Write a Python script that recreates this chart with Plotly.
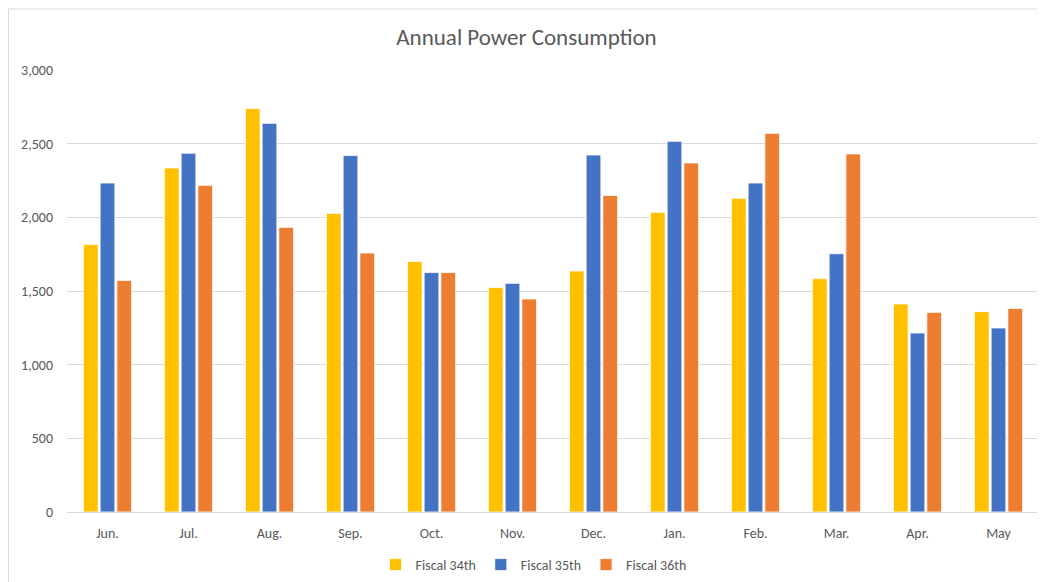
import plotly.graph_objects as go

months = ["Jun.", "Jul.", "Aug.", "Sep.", "Oct.", "Nov.", "Dec.", "Jan.", "Feb.", "Mar.", "Apr.", "May"]
fiscal_34 = [1815, 2335, 2738, 2027, 1701, 1523, 1636, 2034, 2129, 1584, 1412, 1360]
fiscal_35 = [2233, 2435, 2638, 2419, 1625, 1552, 2423, 2516, 2233, 1753, 1215, 1249]
fiscal_36 = [1572, 2217, 1932, 1758, 1625, 1446, 2149, 2369, 2570, 2430, 1355, 1382]
series_names = ["Fiscal 34th", "Fiscal 35th", "Fiscal 36th"]
colors = ["#FFC000", "#4472C4", "#ED7D31"]

FONT = "Calibri, Carlito, Lato, 'Open Sans', sans-serif"

# page body has an 8px default margin, so the figure is sized to fill the rest
W, H = 1037, 574
ML, MR, MT, MB = 59, 6, 62, 70
PW, PH = W - ML - MR, H - MT - MB

fig = go.Figure()
for name, vals, c in zip(series_names, [fiscal_34, fiscal_35, fiscal_36], colors):
    fig.add_trace(go.Bar(
        x=months, y=vals, name=name,
        marker=dict(color=c, line=dict(color="white", width=0.8)),
    ))

fig.update_layout(
    width=W, height=H,
    barmode="group", bargap=0.38, bargroupgap=0.12,
    paper_bgcolor="white", plot_bgcolor="white",
    margin=dict(l=ML, r=MR, t=MT, b=MB, autoexpand=False),
    font=dict(family=FONT, color="#595959", size=14),
    title=dict(text="Annual Power Consumption", x=0.5, xanchor="center",
               y=1 - 29 / H, yanchor="middle",
               font=dict(family=FONT, size=23, color="#595959")),
    legend=dict(orientation="h", x=0.48, xanchor="center", y=-53 / PH, yanchor="middle",
                font=dict(family=FONT, size=14, color="#595959"),
                traceorder="normal", itemwidth=30),
    showlegend=True,
    yaxis=dict(range=[0, 3000], dtick=500, tickformat=",", showgrid=True, automargin=False,
               gridcolor="#D9D9D9", gridwidth=1, zeroline=True, zerolinecolor="#D9D9D9",
               zerolinewidth=1, ticks="", ticklabelstandoff=13,
               tickfont=dict(family=FONT, size=14, color="#595959"), fixedrange=True),
    xaxis=dict(showline=True, linecolor="#D9D9D9", linewidth=1, ticks="", automargin=False,
               tickfont=dict(family=FONT, size=14, color="#595959"), ticklabelstandoff=8),
    shapes=[dict(type="rect", xref="paper", yref="paper",
                 x0=(0.5 - ML) / PW, x1=(W + 20 - ML) / PW,
                 y0=-(MB + 20) / PH, y1=(PH + MT - 1) / PH,
                 line=dict(color="#D9D9D9", width=1), layer="below")],
)

fig.write_html("out.html")
